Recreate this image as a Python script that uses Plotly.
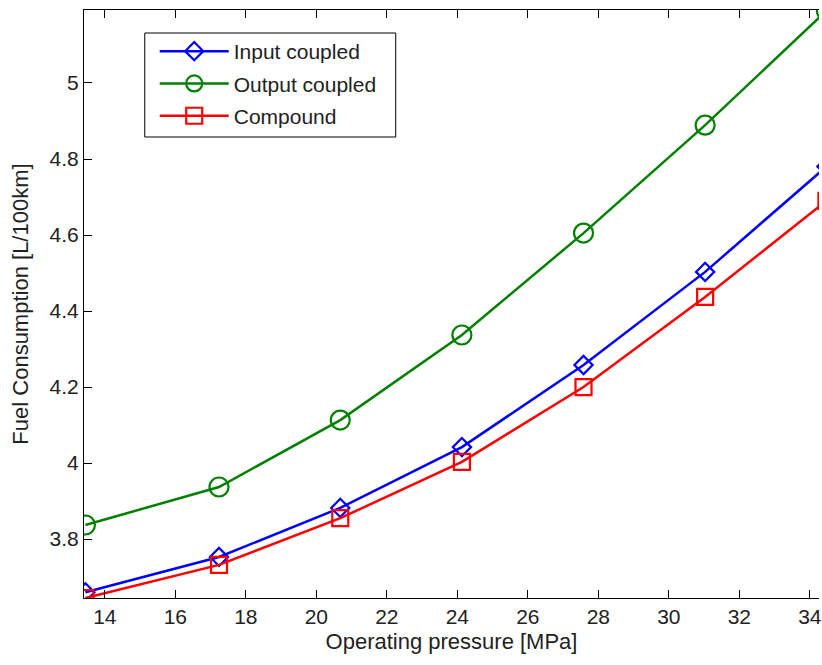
import plotly.graph_objects as go

# Operating pressure (MPa) and fuel consumption (L/100km) per architecture
pressure = [13.45, 17.24, 20.68, 24.13, 27.58, 31.03, 34.47]
input_coupled = [3.660, 3.753, 3.882, 4.042, 4.258, 4.503, 4.780]
output_coupled = [3.837, 3.937, 4.113, 4.337, 4.605, 4.889, 5.190]
compound = [3.645, 3.732, 3.855, 4.003, 4.200, 4.437, 4.690]

x_ticks = [14, 16, 18, 20, 22, 24, 26, 28, 30, 32, 34]
y_ticks = [3.8, 4.0, 4.2, 4.4, 4.6, 4.8, 5.0]
y_tick_text = ["3.8", "4", "4.2", "4.4", "4.6", "4.8", "5"]

FONT = "Liberation Sans, Arial, sans-serif"
TEXT = "#222222"

# plot area in pixels (left, top, right, bottom) inside the 822x665 figure
L, T, R, B = 84, 10, 822, 598
PW, PH = R - L, B - T


def px_x(p):
    return (p - L) / PW


def px_y(p):
    return (B - p) / PH


series = [
    ("Input coupled", input_coupled, "#0000ff", "diamond-open", 14),
    ("Output coupled", output_coupled, "#008000", "circle-open", 19),
    ("Compound", compound, "#ff0000", "square-open", 16),
]

fig = go.Figure()
for i, (name, vals, color, symbol, size) in enumerate(series):
    fig.add_trace(go.Scatter(
        x=pressure, y=vals, name=name, mode="lines+markers",
        legendgroup=f"g{i}",
        line=dict(color=color, width=2.5),
        marker=dict(symbol=symbol, size=size, color=color,
                    line=dict(color=color, width=2.2)),
    ))

# legend frame
fig.add_shape(
    type="rect", xref="paper", yref="paper",
    x0=px_x(145), x1=px_x(397), y0=px_y(137), y1=px_y(33),
    line=dict(color="black", width=1), fillcolor="white", layer="above",
)

fig.update_layout(
    width=822, height=665,
    margin=dict(l=L, r=0, t=T, b=665 - B),
    paper_bgcolor="white", plot_bgcolor="white",
    font=dict(family=FONT, size=21, color=TEXT),
    showlegend=True,
    legend=dict(
        x=px_x(155), y=px_y(31), xanchor="left", yanchor="top",
        bgcolor="rgba(0,0,0,0)", borderwidth=0,
        font=dict(family=FONT, size=21, color=TEXT),
        itemwidth=69, tracegroupgap=2,
    ),
)

fig.update_xaxes(
    range=[13.41, 34.26], tickvals=x_ticks,
    ticks="inside", ticklen=8, tickwidth=1, tickcolor="black",
    showline=True, linecolor="black", linewidth=1, mirror="ticks",
    showgrid=False, zeroline=False, ticklabeloverflow="allow",
    tickfont=dict(family=FONT, size=21, color=TEXT),
    title=dict(text="Operating pressure [MPa]", standoff=6,
               font=dict(family=FONT, size=22, color=TEXT)),
)
fig.update_yaxes(
    range=[3.645, 5.192], tickvals=y_ticks, ticktext=y_tick_text,
    ticks="inside", ticklen=8, tickwidth=1, tickcolor="black",
    showline=True, linecolor="black", linewidth=1,
    showgrid=False, zeroline=False,
    tickfont=dict(family=FONT, size=21, color=TEXT),
    title=dict(text="Fuel Consumption [L/100km]", standoff=14,
               font=dict(family=FONT, size=22, color=TEXT)),
)

fig.write_html("out.html")
